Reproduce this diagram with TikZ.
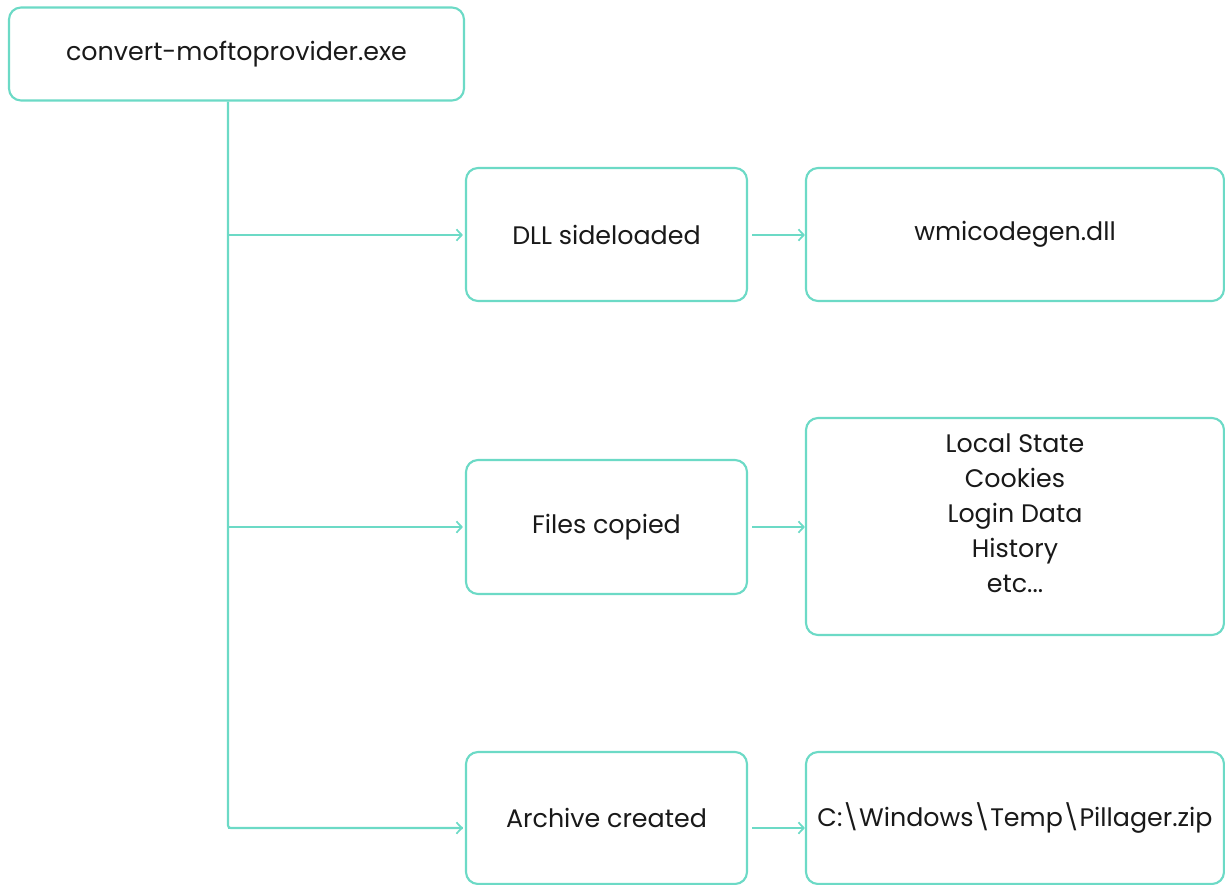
\documentclass[tikz,border=0pt]{standalone}
\usepackage{fontspec}
\setmainfont{Poppins}
\usetikzlibrary{arrows.meta}
\definecolor{teal}{RGB}{108,218,198}
\definecolor{txt}{RGB}{25,25,25}
\tikzset{
  box/.style={draw=teal, line width=1.6pt, rounded corners=9pt, fill=white,
    inner sep=0pt, align=center, text=txt, font=\fontsize{19}{26.25}\selectfont},
  link/.style={draw=teal, line width=1.6pt, -{Straight Barb[length=4pt,width=8.5pt,line width=1.3pt]}},
}
\begin{document}
\begin{tikzpicture}[x=0.75pt,y=-0.75pt]
\useasboundingbox (0,0) rectangle (1225,885);
\node[box, minimum width=455*0.75pt, minimum height=93*0.75pt] (top) at (236.5,54) {convert-moftoprovider.exe};
\node[box, minimum width=281*0.75pt, minimum height=133*0.75pt] (dll) at (606.5,234.5) {DLL sideloaded};
\node[box, minimum width=418*0.75pt, minimum height=133*0.75pt] (wmi) at (1015,234.5) {wmicodegen.dll};
\node[box, minimum width=281*0.75pt, minimum height=134*0.75pt] (files) at (606.5,527) {Files copied};
\node[box, minimum width=418*0.75pt, minimum height=217*0.75pt] (list) at (1015,526.5) {};
\node[text=txt, font=\fontsize{19}{26.25}\selectfont, align=center, anchor=north] (listtxt) at (1015,429) {Local State\\Cookies\\Login Data\\History\\etc...};
\node[box, minimum width=281*0.75pt, minimum height=132*0.75pt] (arch) at (606.5,818) {Archive created};
\node[box, minimum width=418*0.75pt, minimum height=132*0.75pt] (zip) at (1015,818) {C:\textbackslash Windows\textbackslash Temp\textbackslash Pillager.zip};
\coordinate (j1) at (228,235);
\coordinate (j2) at (228,527);
\coordinate (j3) at (228,828);
\draw[draw=teal, line width=1.6pt, rounded corners=2pt] (top.south -| j1) -- (j3) -- ([xshift=-1.5pt]arch.west |- j3);
\draw[link, shorten >=1.5pt] (j1) -- (dll.west |- j1);
\draw[link, shorten >=1.5pt] (j2) -- (files.west |- j2);
\draw[link, shorten >=1.5pt] (j3) -- (arch.west |- j3);
\draw[link, shorten <=3pt] (dll.east |- j1) -- (wmi.west |- j1);
\draw[link, shorten <=3pt] (files.east |- j2) -- (list.west |- j2);
\draw[link, shorten <=3pt] (arch.east |- j3) -- (zip.west |- j3);
\end{tikzpicture}
\end{document}
